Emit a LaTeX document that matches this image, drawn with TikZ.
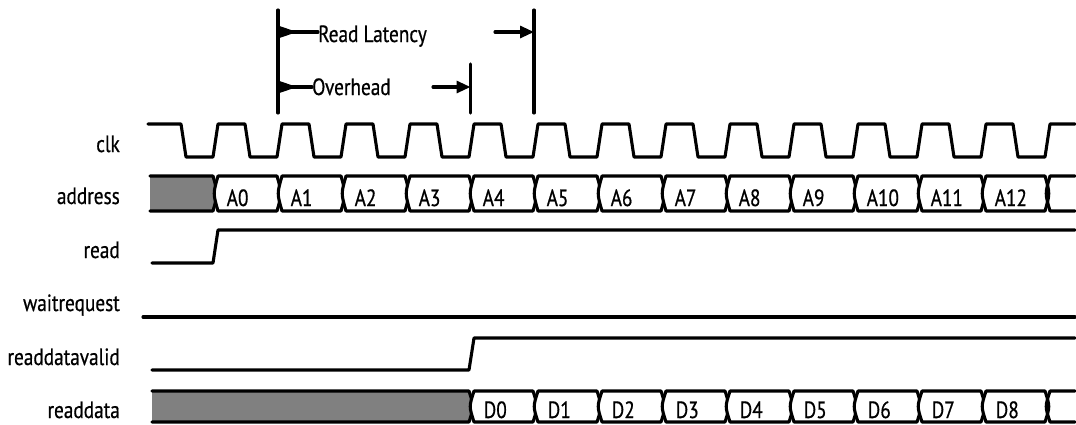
\documentclass[tikz,border=0pt]{standalone}
\usepackage{fontspec}
\setmainfont{PT Sans}[FakeStretch=0.82,FakeBold=0.6]
\usetikzlibrary{arrows.meta}
\definecolor{busgrey}{HTML}{808080}
\begin{document}
\begin{tikzpicture}[x=1pt,y=-1pt,
  sig/.style={line width=3.1pt,line cap=round,line join=round},
  lbl/.style={font=\fontsize{23.5}{27}\selectfont, inner sep=0pt, anchor=base east},
  val/.style={font=\fontsize{23.5}{27}\selectfont, inner sep=0pt, anchor=base west},
  rtip/.style={-{Triangle[length=14pt,width=12pt]}}]
\useasboundingbox (0,0) rectangle (1076,424);

% signal names
\node[lbl] (nclk) at (120,152) {clk};
\node[lbl] (naddr) at (120,204) {address};
\node[lbl] (nread) at (120,258) {read};
\node[lbl] (nwait) at (120,311) {waitrequest};
\node[lbl] (nvalid) at (120,365) {readdatavalid};
\node[lbl] (ndata) at (120,418) {readdata};

% clock
\draw[sig] (148,124) -- (181,124) -- (186,157)
  foreach \k in {0,...,12} { -- ({213+64*\k},157) -- ({218+64*\k},124) -- ({245+64*\k},124) -- ({250+64*\k},157) }
  -- (1045,157) -- (1050,124) -- (1075,124);

% address bus
\fill[busgrey] (150,176) -- (213,176) .. controls (218,193.5) .. (213,211) -- (150,211) -- cycle;
\draw[sig] (150,176) -- (213,176) .. controls (218,193.5) .. (213,211) -- (150,211);
\foreach \lab [count=\k from 0] in {A0,A1,A2,A3,A4,A5,A6,A7,A8,A9,A10,A11,A12} {
  \pgfmathsetmacro\a{215.5+64*\k}
  \pgfmathsetmacro\b{\a+64}
  \draw[sig,fill=white] ({\a+2.5},176) -- ({\b-2.5},176) .. controls ({\b+2.5},193.5) .. ({\b-2.5},211)
     -- ({\a+2.5},211) .. controls ({\a-2.5},193.5) .. ({\a+2.5},176) -- cycle;
  \node[val] (addr\k) at ({\a+11},206) {\lab};
}
\draw[sig] (1075,176) -- (1050,176) .. controls (1045,193.5) .. (1050,211) -- (1075,211);

% read
\draw[sig] (152,263) -- (213,263) -- (218,230) -- (1075,230);
% waitrequest
\draw[sig] (143,317) -- (1075,317);
% readdatavalid
\draw[sig] (152,370) -- (469,370) -- (474,338) -- (1075,338);

% readdata bus
\fill[busgrey] (152,391) -- (469,391) .. controls (474,406.5) .. (469,422) -- (152,422) -- cycle;
\draw[sig] (152,391) -- (469,391) .. controls (474,406.5) .. (469,422) -- (152,422);
\foreach \lab [count=\k from 4] in {D0,D1,D2,D3,D4,D5,D6,D7,D8} {
  \pgfmathsetmacro\a{215.5+64*\k}
  \pgfmathsetmacro\b{\a+64}
  \draw[sig,fill=white] ({\a+2.5},391) -- ({\b-2.5},391) .. controls ({\b+2.5},406.5) .. ({\b-2.5},422)
     -- ({\a+2.5},422) .. controls ({\a-2.5},406.5) .. ({\a+2.5},391) -- cycle;
  \node[val] (data\k) at ({\a+12},418) {\lab};
}
\draw[sig] (1075,391) -- (1050,391) .. controls (1045,406.5) .. (1050,422) -- (1075,422);

% markers
\coordinate (m1top) at (278,10);   \coordinate (m1bot) at (278,113);
\coordinate (m2top) at (470.5,64); \coordinate (m2bot) at (470.5,113);
\coordinate (m3top) at (534,10);   \coordinate (m3bot) at (534,113);
\draw[sig] (m1top) -- (m1bot);
\draw[sig] (m2top) -- (m2bot);
\draw[sig] (m3top) -- (m3bot);

% Read Latency
\node[val] (rl) at (318,42) {Read Latency};
\coordinate (rlA) at (278,32); \coordinate (rlB) at (318,32);
\coordinate (rlC) at (495,32); \coordinate (rlD) at (534,32);
\fill (rlA) ++(0,-6.5) -- ++(19,6.5) -- ++(-19,6.5) -- cycle;
\draw[sig] (rlA) -- (rlB);
\draw[sig,rtip] (rlC) -- (rlD);

% Overhead
\node[val] (oh) at (312,95) {Overhead};
\coordinate (ohA) at (278,87); \coordinate (ohB) at (312,87);
\coordinate (ohC) at (433,87); \coordinate (ohD) at (470.5,87);
\fill (ohA) ++(0,-6.5) -- ++(19,6.5) -- ++(-19,6.5) -- cycle;
\draw[sig] (ohA) -- (ohB);
\draw[sig,rtip] (ohC) -- (ohD);
\end{tikzpicture}
\end{document}
